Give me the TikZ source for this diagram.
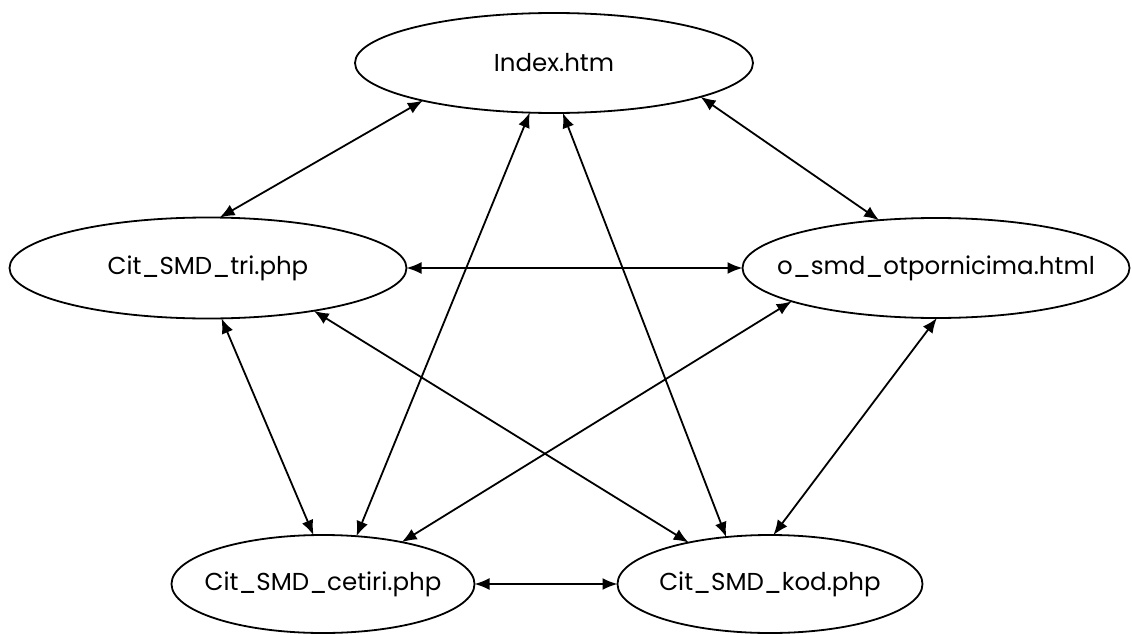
\documentclass[tikz,border=0pt]{standalone}
\usepackage{fontspec}
\setmainfont{Poppins}
\usetikzlibrary{shapes.geometric,arrows.meta}
\newcommand{\pglabel}[1]{\makebox[0pt]{#1}}
\begin{document}
\begin{tikzpicture}[x=1pt,y=-1pt,
  page/.style={draw,ellipse,line width=1.8pt,inner sep=0pt,outer sep=0pt,
    font=\fontsize{24.5}{25}\selectfont},
  link/.style={line width=1.8pt,{Latex[length=15pt,width=12pt]}-{Latex[length=15pt,width=12pt]}}]
\useasboundingbox (0,0) rectangle (1132,634);
\node[page,minimum width=398pt,minimum height=100pt] (index) at (554,63) {\pglabel{Index.htm}};
\node[page,minimum width=397pt,minimum height=101pt] (tri) at (208,268) {\pglabel{Cit\_SMD\_tri.php}};
\node[page,minimum width=387pt,minimum height=100pt] (osmd) at (936,268) {\pglabel{o\_smd\_otpornicima.html}};
\node[page,minimum width=303pt,minimum height=98pt] (cetiri) at (323,584) {\pglabel{Cit\_SMD\_cetiri.php}};
\node[page,minimum width=305pt,minimum height=98pt] (kod) at (770,584) {\pglabel{Cit\_SMD\_kod.php}};
\draw[link] (index.196.6) -- (tri.77.7);
\draw[link] (index.244.4) -- (cetiri.55.2);
\draw[link] (index.280.2) -- (kod.133.8);
\draw[link] (index.347.9) -- (osmd.140.9);
\draw[link] (tri.0) -- (osmd.180);
\draw[link] (tri.338.6) -- (kod.153.9);
\draw[link] (tri.285.5) -- (cetiri.101.5);
\draw[link] (osmd.193.5) -- (cetiri.28.2);
\draw[link] (osmd.271) -- (kod.86.5);
\draw[link] (cetiri.0) -- (kod.180);
\end{tikzpicture}
\end{document}
